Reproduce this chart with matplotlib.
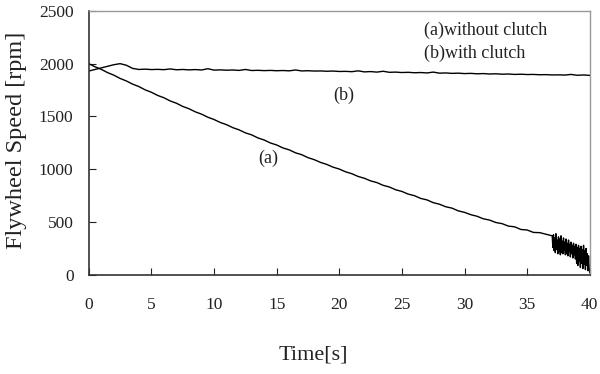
import numpy as np
import matplotlib
matplotlib.use("Agg")
import matplotlib.pyplot as plt

plt.rcParams['font.family'] = ['Liberation Serif', 'DejaVu Serif']

# (a) without clutch: 0.5 s samples from 0 to 36.5 s, then 0.05 s samples 37..40 s
time_a_coarse = [i * 0.5 for i in range(74)]
speed_a_coarse = [
    2000, 1970, 1946, 1915, 1891, 1860, 1836, 1806, 1783, 1752,
    1729, 1699, 1677, 1647, 1625, 1595, 1573, 1544, 1522, 1493,
    1471, 1443, 1422, 1394, 1373, 1345, 1326, 1297, 1277, 1249,
    1230, 1202, 1184, 1156, 1138, 1110, 1091, 1065, 1046, 1020,
    1002, 976, 958, 932, 915, 890, 874, 848, 832, 806,
    790, 765, 750, 724, 710, 684, 669, 645, 632, 606,
    592, 570, 555, 531, 519, 496, 485, 462, 455, 430,
    425, 402, 400, 385,
]
time_a_fine = [37.0 + i * 0.05 for i in range(61)]
speed_a_fine = [
    370, 260, 380, 230, 350, 210, 390, 240, 330, 200,
    360, 220, 340, 190, 370, 210, 320, 200, 350, 230,
    310, 190, 340, 200, 300, 180, 330, 220, 290, 170,
    310, 200, 280, 160, 300, 190, 270, 150, 290, 110,
    260, 90, 280, 130, 250, 70, 270, 110, 240, 60,
    280, 100, 230, 50, 250, 90, 200, 40, 180, 60, 20,
]

# (b) with clutch: 0.5 s samples from 0 to 40 s
time_b = [i * 0.5 for i in range(81)]
speed_b = [
    1930, 1945, 1960, 1975, 1990, 2000, 1985, 1955, 1945, 1948,
    1944, 1946, 1943, 1950, 1942, 1945, 1941, 1944, 1940, 1952,
    1939, 1941, 1938, 1940, 1936, 1945, 1935, 1937, 1934, 1936,
    1933, 1935, 1932, 1940, 1931, 1933, 1930, 1931, 1928, 1930,
    1926, 1927, 1924, 1932, 1922, 1925, 1920, 1928, 1918, 1920,
    1916, 1918, 1914, 1916, 1912, 1920, 1910, 1912, 1908, 1910,
    1906, 1908, 1904, 1906, 1902, 1904, 1900, 1902, 1898, 1900,
    1897, 1898, 1895, 1896, 1893, 1894, 1892, 1898, 1890, 1893, 1889,
]

x_ticks = [0, 5, 10, 15, 20, 25, 30, 35, 40]
y_ticks = [0, 500, 1000, 1500, 2000, 2500]

fig = plt.figure(figsize=(6.0, 3.74), dpi=100)
ax = fig.add_axes([0.148, 0.265, 0.835, 0.706])

ax.plot(time_a_coarse + time_a_fine, speed_a_coarse + speed_a_fine, color='black', lw=1.0)
ax.plot(time_b, speed_b, color='black', lw=1.0)

ax.set_xlim(0, 40)
ax.set_ylim(0, 2500)
ax.set_xticks(x_ticks)
ax.set_yticks(y_ticks)
ax.tick_params(axis='x', direction='in', length=5, pad=16, labelsize=12.5, colors='#222222')
ax.tick_params(axis='y', direction='in', length=5, pad=11, labelsize=12.5, colors='#222222')
ax.tick_params(top=False, right=False)

for s in ['left', 'bottom']:
    ax.spines[s].set_color('#333333')
    ax.spines[s].set_linewidth(1.2)
for s in ['top', 'right']:
    ax.spines[s].set_color('#999999')
    ax.spines[s].set_linewidth(1.0)

fig.text(0.522, 0.05, 'Time[s]', fontsize=16, ha='center', va='center', color='#222222')
fig.text(0.028, 0.625, 'Flywheel Speed [rpm]', fontsize=17.5, rotation=90,
         ha='center', va='center', color='#222222')

ax.text(26.8, 2320, '(a)without clutch', fontsize=13, ha='left', va='center', color='#222222')
ax.text(26.8, 2095, '(b)with clutch', fontsize=13, ha='left', va='center', color='#222222')
ax.text(19.5, 1700, '(b)', fontsize=13, ha='left', va='center', color='#222222')
ax.text(13.5, 1100, '(a)', fontsize=13, ha='left', va='center', color='#222222')

fig.savefig('out.png', dpi=100)
